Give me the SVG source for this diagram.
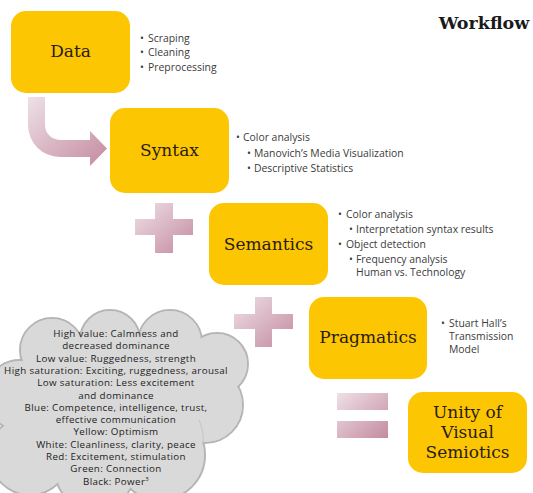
<svg xmlns="http://www.w3.org/2000/svg" width="533" height="493" viewBox="0 0 533 493">
  <defs>
    <linearGradient id="pink" x1="0" y1="0" x2="1" y2="1">
      <stop offset="0" stop-color="#eee0e7"/>
      <stop offset="1" stop-color="#c48b9f"/>
    </linearGradient>
    <style>
      .box { fill: #fdc602; }
      .title { font-family: "DejaVu Serif", "Liberation Serif", serif; font-size: 17px; fill: #2a1d12; text-anchor: middle; }
      .list { font-family: "Open Sans", "Noto Sans", sans-serif; font-size: 10.4px; fill: #3b3b3b; }
      .cloudtxt { font-family: "Open Sans", "Noto Sans", sans-serif; font-size: 9.8px; letter-spacing: 0.35px; fill: #222; text-anchor: middle; }
      .sym { fill: url(#pink); }
      .puff { fill: #d9d9d9; }
      .puff-edge { fill: #d9d9d9; stroke: #b5b5b5; stroke-width: 2; }
    </style>
  </defs>

  <rect width="533" height="493" fill="#ffffff"/>

  <text x="484" y="29" font-family="DejaVu Serif, Liberation Serif, serif" font-weight="bold" font-size="17.5" fill="#1a1a1a" text-anchor="middle">Workflow</text>

  <!-- connectors: bent arrow, plus signs and equals sign -->
  <g id="connectors">
    <path class="sym" d="M28,97 H45 V125 A15,15 0 0 0 60,140 H90 V131 L107,148.5 L90,166 V157 H60 A32,32 0 0 1 28,125 Z"/>
    <path class="sym" d="M155,203 H173 V219 H193 V235 H173 V253 H155 V235 H135 V219 H155 Z"/>
    <path class="sym" d="M255,297 H272 V314 H293 V329 H272 V347 H255 V329 H234 V314 H255 Z"/>
    <path class="sym" d="M337,393 H388 V410 H337 Z M337,421 H388 V438 H337 Z"/>
  </g>

  <!-- cloud of colour meanings -->
  <g id="cloud">
    <g class="puff-edge">
      <circle cx="52" cy="350" r="32"/>
      <circle cx="110" cy="340" r="30"/>
      <circle cx="170" cy="342" r="32"/>
      <circle cx="217" cy="364" r="31"/>
      <circle cx="205" cy="405" r="38"/>
      <circle cx="160" cy="455" r="45"/>
      <circle cx="95" cy="470" r="40"/>
      <circle cx="30" cy="455" r="40"/>
      <circle cx="20" cy="395" r="35"/>
    </g>
    <g class="puff">
      <circle cx="52" cy="350" r="31"/>
      <circle cx="110" cy="340" r="29"/>
      <circle cx="170" cy="342" r="31"/>
      <circle cx="217" cy="364" r="30"/>
      <circle cx="205" cy="405" r="37"/>
      <circle cx="160" cy="455" r="44"/>
      <circle cx="95" cy="470" r="39"/>
      <circle cx="30" cy="455" r="39"/>
      <circle cx="20" cy="395" r="34"/>
      <ellipse cx="120" cy="400" rx="100" ry="65"/>
    </g>
    <path d="M199,420 A45,45 0 0 1 203,443" fill="none" stroke="#c4c4c4" stroke-width="1"/>
    <g class="cloudtxt">
      <text x="116" y="337">High value: Calmness and</text>
      <text x="116" y="349.3">decreased dominance</text>
      <text x="116" y="361.6">Low value: Ruggedness, strength</text>
      <text x="116" y="373.9">High saturation: Exciting, ruggedness, arousal</text>
      <text x="116" y="386.2">Low saturation: Less excitement</text>
      <text x="116" y="398.5">and dominance</text>
      <text x="116" y="410.8">Blue: Competence, intelligence, trust,</text>
      <text x="116" y="423.1">effective communication</text>
      <text x="116" y="435.4">Yellow: Optimism</text>
      <text x="116" y="447.7">White: Cleanliness, clarity, peace</text>
      <text x="116" y="460">Red: Excitement, stimulation</text>
      <text x="116" y="472.3">Green: Connection</text>
      <text x="116" y="484.6">Black: Power<tspan font-size="6" dy="-4">3</tspan></text>
    </g>
  </g>

  <g id="data">
    <rect class="box" x="11" y="11" width="119" height="82" rx="15"/>
    <text class="title" x="70.5" y="57">Data</text>
    <g class="list">
      <text x="140" y="41.5">•</text><text x="148" y="41.5">Scraping</text>
      <text x="140" y="55.5">•</text><text x="148" y="55.5">Cleaning</text>
      <text x="140" y="70.5">•</text><text x="148" y="70.5">Preprocessing</text>
    </g>
  </g>

  <g id="syntax">
    <rect class="box" x="110" y="108" width="119" height="85" rx="15"/>
    <text class="title" x="169.5" y="156">Syntax</text>
    <g class="list">
      <text x="236" y="140.5">•</text><text x="243" y="140.5">Color analysis</text>
      <text x="247" y="156.5">•</text><text x="254" y="156.5">Manovich’s Media Visualization</text>
      <text x="247" y="171.5">•</text><text x="254" y="171.5">Descriptive Statistics</text>
    </g>
  </g>

  <g id="semantics">
    <rect class="box" x="209" y="203" width="119" height="82" rx="15"/>
    <text class="title" x="268.5" y="250">Semantics</text>
    <g class="list">
      <text x="338" y="217.5">•</text><text x="346" y="217.5">Color analysis</text>
      <text x="349" y="232.5">•</text><text x="356" y="232.5">Interpretation syntax results</text>
      <text x="338" y="247.5">•</text><text x="346" y="247.5">Object detection</text>
      <text x="349" y="262.5">•</text><text x="356" y="262.5">Frequency analysis</text>
      <text x="356" y="275.5">Human vs. Technology</text>
    </g>
  </g>

  <g id="pragmatics">
    <rect class="box" x="309" y="297" width="118" height="82" rx="15"/>
    <text class="title" x="368" y="343">Pragmatics</text>
    <g class="list">
      <text x="441" y="326.5">•</text><text x="449" y="326.5">Stuart Hall’s</text>
      <text x="449" y="339.5">Transmission</text>
      <text x="449" y="352.5">Model</text>
    </g>
  </g>

  <g id="unity">
    <rect class="box" x="408" y="392" width="119" height="81" rx="15"/>
    <text class="title" x="467.5" y="418">Unity of</text>
    <text class="title" x="467.5" y="438">Visual</text>
    <text class="title" x="467.5" y="458">Semiotics</text>
  </g>
</svg>
